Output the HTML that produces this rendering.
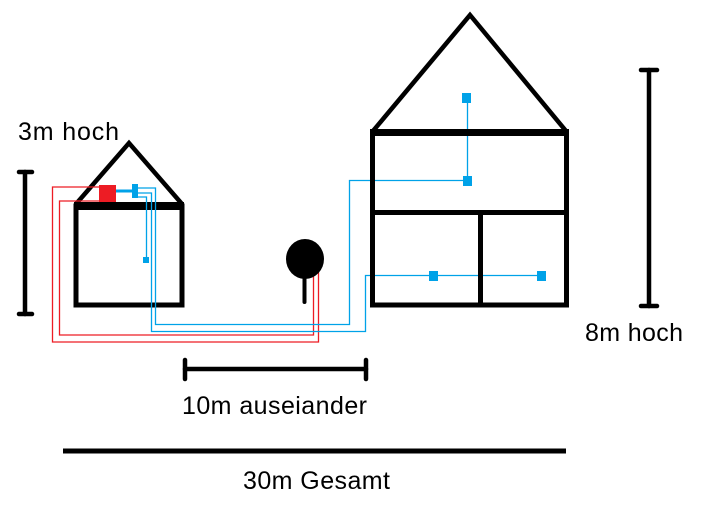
<!DOCTYPE html>
<html><head><meta charset="utf-8"><style>
html,body{margin:0;padding:0;background:#fff;}
svg{display:block;}
text{font-family:"Liberation Sans",sans-serif;font-size:25px;fill:#000;}
</style></head><body>
<svg width="703" height="514" viewBox="0 0 703 514" xmlns="http://www.w3.org/2000/svg">
<polyline points="76,204 129,143 182,204" fill="none" stroke="#000" stroke-width="4.5"/>
<rect x="76" y="206" width="106" height="99" fill="none" stroke="#000" stroke-width="5"/>
<rect x="74" y="202" width="110" height="8" fill="#000"/>
<g fill="none" stroke-width="1.3">
<polyline points="99,187 52.5,187 52.5,342 318.5,342 318.5,263" stroke="#ed1c24"/>
<polyline points="99,201 59.5,201 59.5,335 313.5,335 313.5,268" stroke="#ed1c24"/>
<polyline points="138,188 155.5,188 155.5,324.5 349.5,324.5 349.5,180.5 463,180.5" stroke="#00a2e8"/>
<polyline points="138,193 151.5,193 151.5,331.5 365.5,331.5 365.5,275.5 540,275.5" stroke="#00a2e8"/>
<polyline points="138,197 146.5,197 146.5,260" stroke="#00a2e8"/>
<polyline points="467.5,100 467.5,180" stroke="#00a2e8"/>
</g>
<line x1="116" y1="191" x2="133" y2="191" stroke="#00a2e8" stroke-width="3"/>
<rect x="99" y="185" width="17" height="17" fill="#ed1c24"/>
<rect x="132" y="184" width="6" height="14" fill="#00a2e8"/>
<rect x="143" y="257" width="6" height="6" fill="#00a2e8"/>
<ellipse cx="305" cy="259" rx="19" ry="20" fill="#000"/>
<line x1="304.5" y1="270" x2="304.5" y2="302" stroke="#000" stroke-width="4" stroke-linecap="round"/>
<polyline points="373,131 470,15 566,131" fill="none" stroke="#000" stroke-width="4.5"/>
<rect x="372.5" y="132" width="194" height="173" fill="none" stroke="#000" stroke-width="5"/>
<rect x="370" y="129" width="199" height="7" fill="#000"/>
<rect x="370" y="210" width="199" height="5" fill="#000"/>
<rect x="478" y="210" width="5" height="96" fill="#000"/>
<rect x="462" y="93" width="9" height="10" fill="#00a2e8"/>
<rect x="463" y="176" width="9" height="10" fill="#00a2e8"/>
<rect x="429" y="271" width="9" height="10" fill="#00a2e8"/>
<rect x="537" y="271" width="9" height="10" fill="#00a2e8"/>
<g stroke="#000" stroke-width="4.5" stroke-linecap="round">
<line x1="25" y1="172" x2="25" y2="314"/><line x1="19" y1="172" x2="32" y2="172"/><line x1="19" y1="314" x2="32" y2="314"/>
<line x1="649" y1="70" x2="649" y2="306"/><line x1="641" y1="70" x2="657" y2="70"/><line x1="641" y1="306" x2="657" y2="306"/>
<line x1="185" y1="369" x2="366" y2="369"/><line x1="185" y1="360" x2="185" y2="379"/><line x1="366" y1="360" x2="366" y2="379"/>
</g>
<line x1="63" y1="451" x2="566" y2="451" stroke="#000" stroke-width="5"/>
<text x="18" y="140" textLength="101">3m hoch</text>
<text x="585" y="341" textLength="98">8m hoch</text>
<text x="182" y="414" textLength="185">10m auseiander</text>
<text x="243" y="489" textLength="147">30m Gesamt</text>
</svg>
</body></html>
